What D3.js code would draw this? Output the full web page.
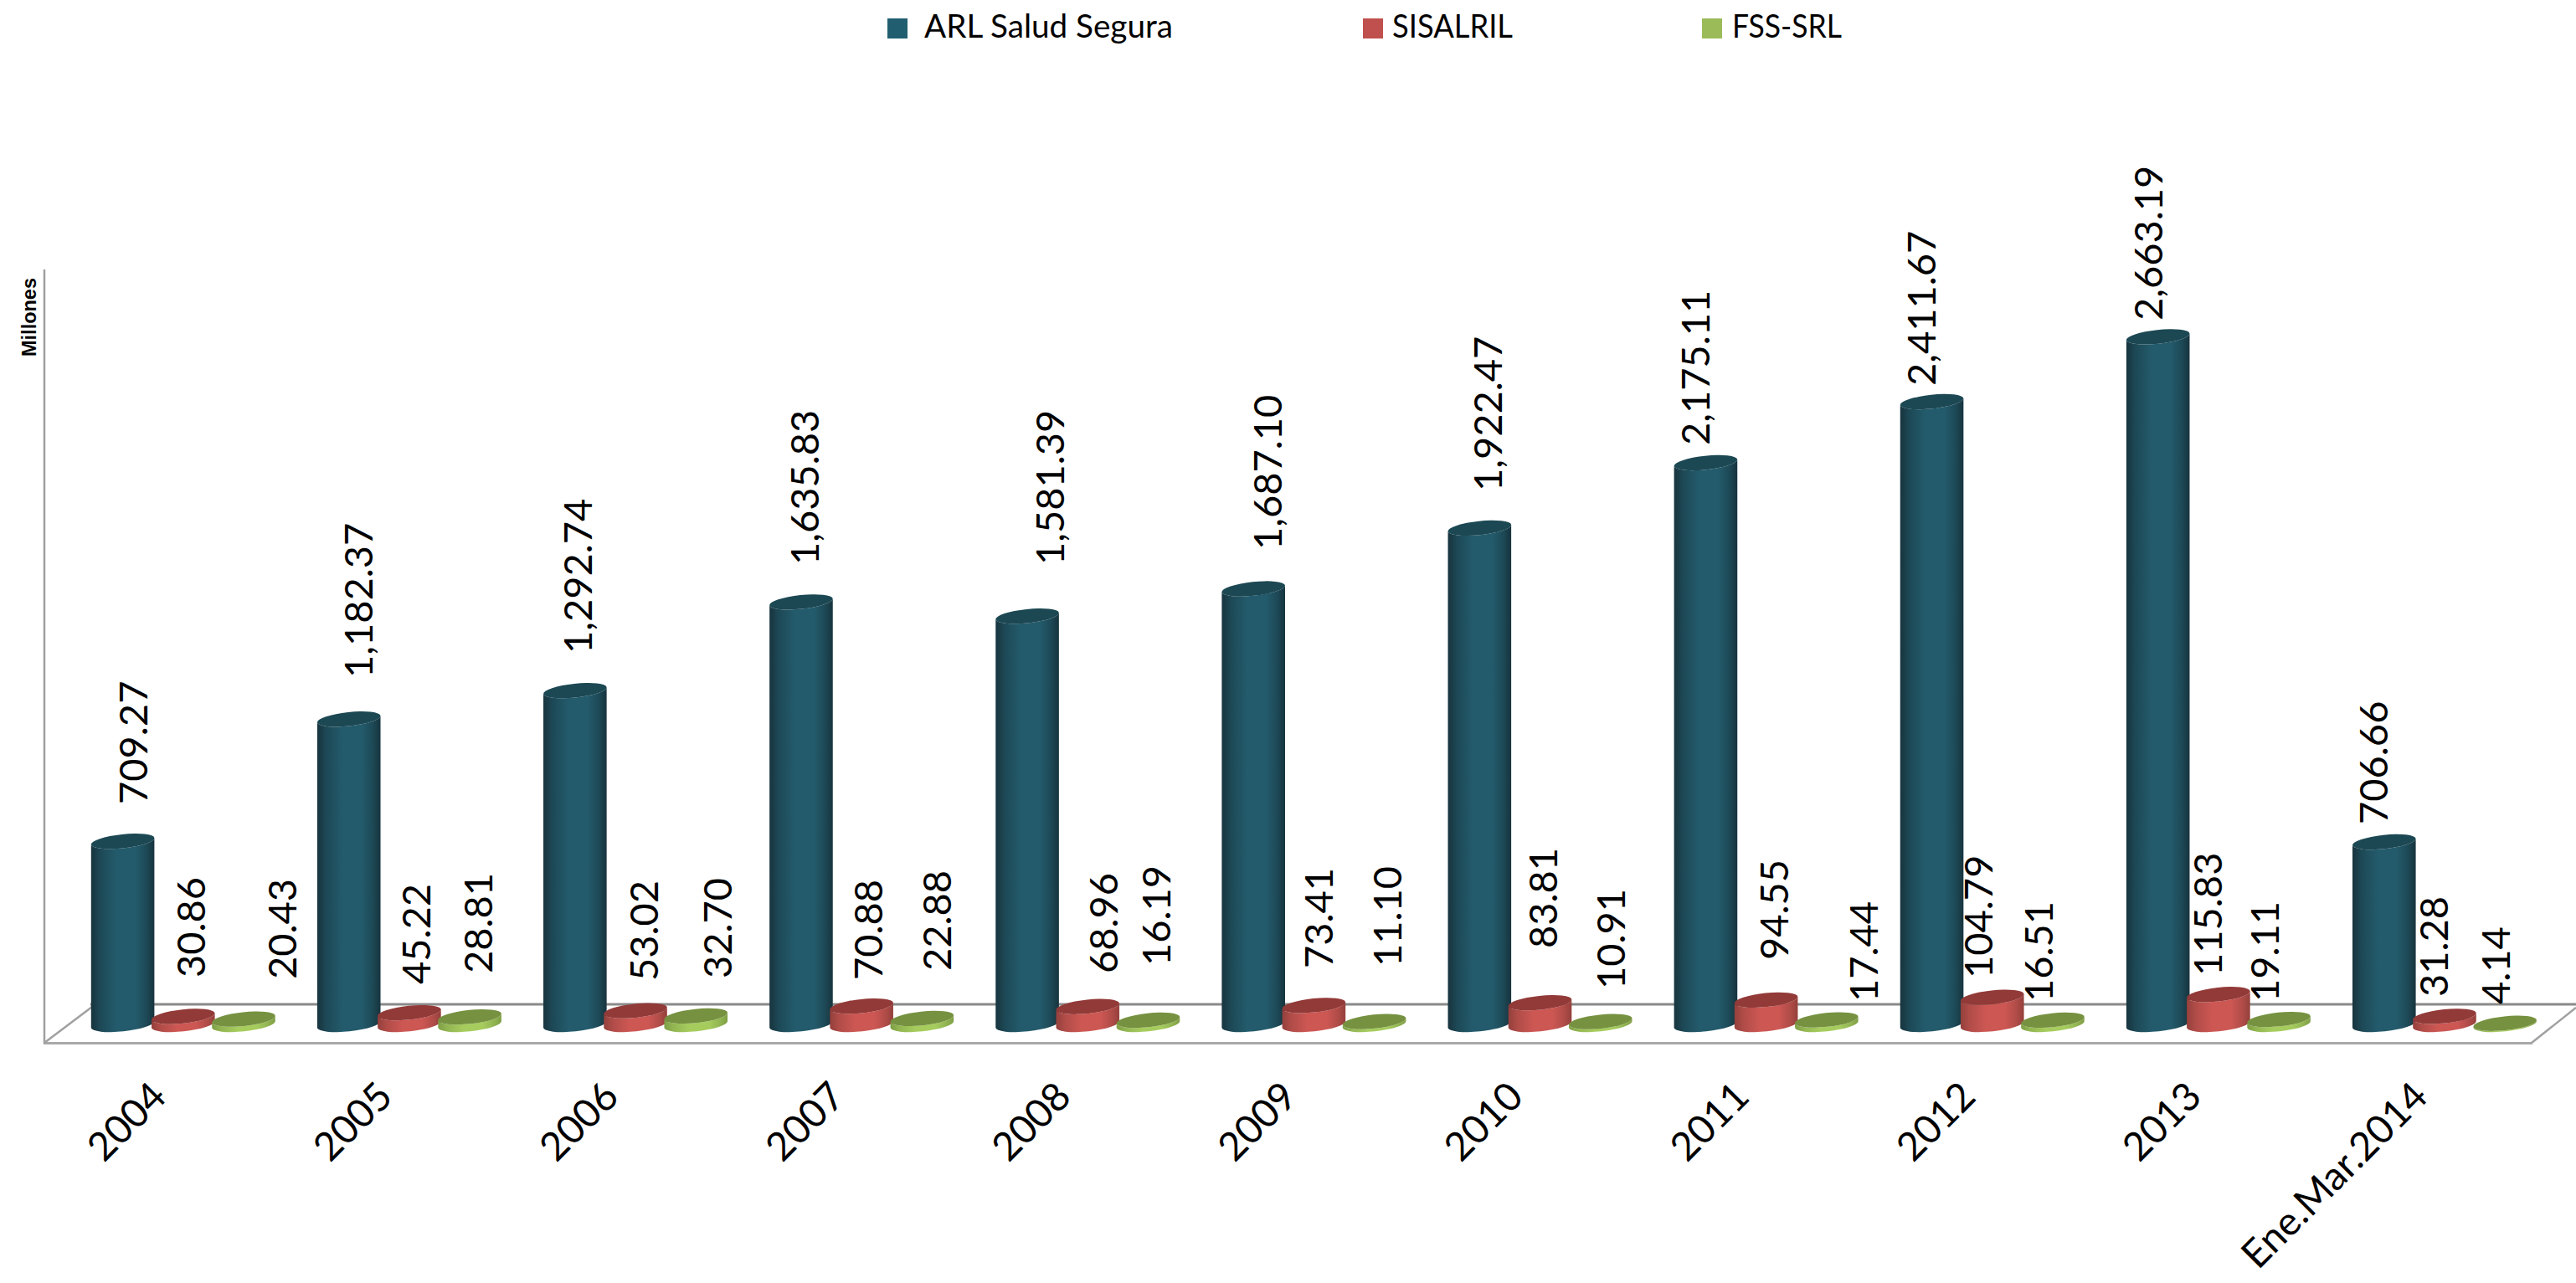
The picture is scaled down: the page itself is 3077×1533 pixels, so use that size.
<!DOCTYPE html>
<html><head><meta charset="utf-8">
<script src="https://cdnjs.cloudflare.com/ajax/libs/d3/7.8.5/d3.min.js"></script>
<style>html,body{margin:0;padding:0;background:#fff;overflow:hidden}svg{display:block}text{fill:#000}</style>
</head><body><script>
const categories=["2004","2005","2006","2007","2008","2009","2010","2011","2012","2013","Ene.Mar.2014"];
const seriesNames=["ARL Salud Segura","SISALRIL","FSS-SRL"];
const arlValues=[709.27,1182.37,1292.74,1635.83,1581.39,1687.10,1922.47,2175.11,2411.67,2663.19,706.66];
const sisalrilValues=[30.86,45.22,53.02,70.88,68.96,73.41,83.81,94.55,104.79,115.83,31.28];
const fssValues=[20.43,28.81,32.70,22.88,16.19,11.10,10.91,17.44,16.51,19.11,4.14];
const seriesValues=[arlValues,sisalrilValues,fssValues];

// hand-placed data labels in the original: horizontal shift from the cylinder centre, baseline of the rotated text
const labelShift=[
 [12,11,3,4,27,17,10,-12,-12,-12,-13],
 [9,8,10,8,19,6,4,9,-17,-13,-13],
 [46,10,26,18,10,15,12,44,-17,-17,-11]];
const labelBottom=[
 [961,810,781,675,675,657,587,532,461,383,985],
 [1168,1176,1172,1171,1163,1157,1133,1147,1169,1166,1191],
 [1170,1163,1169,1160,1154,1155,1182,1197,1197,1197,1200]];

const W=3077,H=1533,FONT="Lato, 'Open Sans', sans-serif";
const palette=[
 {edge:"#17343e",near:"#1d4855",mid:"#235b6c",top:"#1c4853"},
 {edge:"#94403c",near:"#b04c48",mid:"#cd5753",top:"#923a38"},
 {edge:"#7f9e45",near:"#92b552",mid:"#a6cc5e",top:"#769140"}];
const legendColors=["#215f70","#c0504d","#9bbb59"];

const svg=d3.select("body").append("svg").attr("width",W).attr("height",H);
const defs=svg.append("defs");
palette.forEach((p,i)=>{
  const g=defs.append("linearGradient").attr("id","cyl"+i).attr("x1",0).attr("x2",1).attr("y1",0).attr("y2",0);
  [[0,p.edge],[0.14,p.near],[0.4,p.mid],[0.7,p.mid],[0.88,p.near],[1,p.edge]].forEach(([o,c])=>g.append("stop").attr("offset",o).attr("stop-color",c));
});

const x=d3.scalePoint().domain(categories).range([218.8,2920]);
const xs=d3.scalePoint().domain(seriesNames).range([-72.2,72.2]);
const y=d3.scaleLinear().domain([0,3000]).range([1224,298.5]);

// floor + wall
const frame=svg.append("g").attr("fill","none");
const ln=(a,b,c,d,col,w)=>frame.append("line").attr("x1",a).attr("y1",b).attr("x2",c).attr("y2",d).attr("stroke",col).attr("stroke-width",w);
ln(108,1200,3077,1200,"#8a8a8a",3);
ln(52,1246.5,3025,1246.5,"#a8a8a8",3);
ln(53,322,53,1247,"#a0a0a0",2.5);
ln(53,1246,110,1203,"#a0a0a0",2.5);
ln(3024,1246,3077,1204,"#a0a0a0",2.5);

// cylinders
const RX=38,RY=8.3,TILT=-6,rad=TILT*Math.PI/180;
const ex=RX*Math.cos(rad),ey=RX*Math.sin(rad);
function bodyPath(c,yb,yt){
  return `M${c-ex},${yt-ey}L${c-ex},${yb-ey}A${RX},${RY} ${TILT} 0 0 ${c+ex},${yb+ey}L${c+ex},${yt+ey}A${RX},${RY} ${TILT} 0 1 ${c-ex},${yt-ey}Z`;
}
const marks=svg.append("g");
categories.forEach((cat,ci)=>{
  seriesNames.forEach((s,si)=>{
    const c=x(cat)+xs(s),v=seriesValues[si][ci],yt=y(v),yb=y(0);
    const g=marks.append("g");
    g.append("path").attr("d",bodyPath(c,yb,yt)).attr("fill",`url(#cyl${si})`);
    g.append("ellipse").attr("cx",0).attr("cy",0).attr("rx",RX).attr("ry",RY)
      .attr("transform",`translate(${c},${yt}) rotate(${TILT})`).attr("fill",palette[si].top);
  });
});

// data labels
const fmt=d3.format(",.2f");
const labels=svg.append("g").attr("font-family",FONT).attr("font-size",47);
categories.forEach((cat,ci)=>{
  seriesNames.forEach((s,si)=>{
    const c=x(cat)+xs(s)+labelShift[si][ci];
    labels.append("text").attr("text-anchor","start").attr("dy","0.36em")
      .attr("transform",`translate(${c},${labelBottom[si][ci]}) rotate(-90)`)
      .text(fmt(seriesValues[si][ci]));
  });
});

// category axis
const axis=svg.append("g").attr("transform","translate(0,1313)").call(d3.axisBottom(x).tickSize(0).tickPadding(0));
axis.select(".domain").remove();
axis.selectAll("text").attr("font-family",FONT).attr("font-size",47).attr("fill","#000")
  .attr("text-anchor","end").attr("y",0).attr("dy",0).attr("x",0)
  .attr("transform","translate(-18,0) rotate(-45)");

// y title
svg.append("text").attr("transform","translate(43,426) rotate(-90)")
  .attr("font-family","'Liberation Sans', Arial, sans-serif").attr("font-weight",700).attr("font-size",23.5).text("Millones");

// legend
const legendX=[1060,1628,2033],legendTextX=[1104,1663,2069],legendTextW=[297,144,131];
seriesNames.forEach((s,i)=>{
  svg.append("rect").attr("x",legendX[i]).attr("y",22).attr("width",24).attr("height",24).attr("fill",legendColors[i]);
  svg.append("text").attr("x",legendTextX[i]).attr("y",45).attr("font-family",FONT).attr("font-size",38)
    .attr("textLength",legendTextW[i]).attr("lengthAdjust","spacingAndGlyphs").text(s);
});
</script></body></html>
